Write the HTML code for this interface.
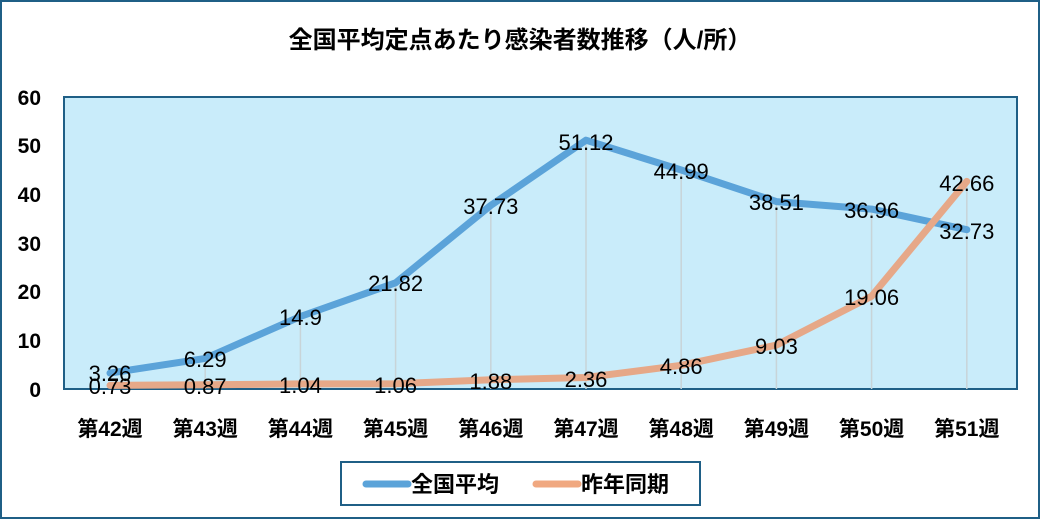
<!DOCTYPE html>
<html><head><meta charset="utf-8"><style>
html,body{margin:0;padding:0;background:#fff;}
svg text{font-family:"Liberation Sans","Noto Sans CJK JP",sans-serif;}
</style></head><body>
<svg width="1040" height="520" viewBox="0 0 1040 520" xmlns="http://www.w3.org/2000/svg">
<rect x="1" y="1" width="1038" height="517" fill="#fff" stroke="#1f5f86" stroke-width="2"/>
<text x="520" y="48" font-size="24" font-weight="bold" text-anchor="middle" fill="#000">全国平均定点あたり感染者数推移（人/所）</text>
<rect x="64" y="97" width="953" height="292" fill="#c9ecfa" stroke="#1f5f86" stroke-width="2"/>
<g font-size="21" font-weight="bold" fill="#000" text-anchor="end">
<text x="41" y="397">0</text><text x="41" y="348">10</text><text x="41" y="299">20</text>
<text x="41" y="251">30</text><text x="41" y="202">40</text><text x="41" y="153">50</text><text x="41" y="105">60</text>
</g>
<g stroke="#c8d4d8" stroke-width="1.5">
<line x1="205.2" y1="358" x2="205.2" y2="389"/><line x1="300.4" y1="316" x2="300.4" y2="389"/>
<line x1="395.6" y1="283" x2="395.6" y2="389"/><line x1="490.8" y1="205" x2="490.8" y2="389"/>
<line x1="586" y1="140" x2="586" y2="389"/><line x1="681.2" y1="170" x2="681.2" y2="389"/>
<line x1="776.4" y1="201" x2="776.4" y2="389"/><line x1="871.6" y1="209" x2="871.6" y2="389"/>
<line x1="966.8" y1="181" x2="966.8" y2="389"/>
</g>
<polyline fill="none" stroke="#5ba3d9" stroke-width="7" stroke-linejoin="round" stroke-linecap="round" points="110,373.1 205.2,358.4 300.4,316.5 395.6,282.8 490.8,205.4 586,140.2 681.2,170 776.4,201.6 871.6,209.1 966.8,229.7"/>
<polyline fill="none" stroke="#e6a888" stroke-width="7" stroke-linejoin="round" stroke-linecap="round" points="110,385.4 205.2,384.8 300.4,383.9 395.6,383.8 490.8,379.8 586,377.5 681.2,365.3 776.4,345.1 871.6,296.2 966.8,181.4"/>
<g font-size="22" fill="#000" text-anchor="middle">
<text x="110" y="381">3.26</text><text x="205.2" y="367">6.29</text><text x="300.4" y="325">14.9</text>
<text x="395.6" y="291">21.82</text><text x="490.8" y="214">37.73</text><text x="586" y="150">51.12</text>
<text x="681.2" y="179">44.99</text><text x="776.4" y="210">38.51</text><text x="871.6" y="218">36.96</text>
<text x="966.8" y="239">32.73</text>
<text x="110" y="394">0.73</text><text x="205.2" y="394">0.87</text><text x="300.4" y="393">1.04</text>
<text x="395.6" y="393">1.06</text><text x="490.8" y="389">1.88</text><text x="586" y="387">2.36</text>
<text x="681.2" y="374">4.86</text><text x="776.4" y="354">9.03</text><text x="871.6" y="305">19.06</text>
<text x="966.8" y="191">42.66</text>
</g>
<g font-size="21" font-weight="bold" fill="#000" text-anchor="middle">
<text x="110" y="436">第42週</text><text x="205.2" y="436">第43週</text><text x="300.4" y="436">第44週</text>
<text x="395.6" y="436">第45週</text><text x="490.8" y="436">第46週</text><text x="586" y="436">第47週</text>
<text x="681.2" y="436">第48週</text><text x="776.4" y="436">第49週</text><text x="871.6" y="436">第50週</text>
<text x="966.8" y="436">第51週</text>
</g>
<rect x="341" y="462" width="359" height="43" fill="#fff" stroke="#1f5f86" stroke-width="2"/>
<line x1="366" y1="484" x2="408" y2="484" stroke="#5ba3d9" stroke-width="7" stroke-linecap="round"/>
<text x="411" y="492" font-size="22" font-weight="bold">全国平均</text>
<line x1="536" y1="484" x2="578" y2="484" stroke="#f0a880" stroke-width="7" stroke-linecap="round"/>
<text x="581" y="492" font-size="22" font-weight="bold">昨年同期</text>
</svg>
</body></html>
